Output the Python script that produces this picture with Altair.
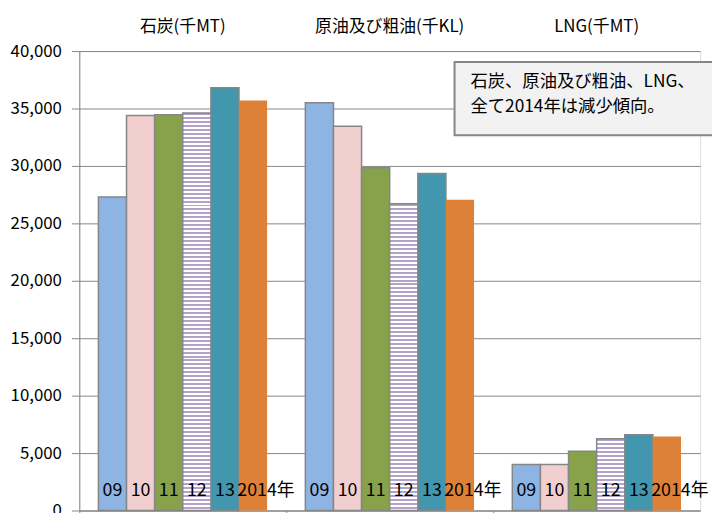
import altair as alt
import pandas as pd

categories = ["石炭(千MT)", "原油及び粗油(千KL)", "LNG(千MT)"]
years = ["09", "10", "11", "12", "13", "2014年"]
coal = [27300, 34400, 34450, 34600, 36800, 35700]
crude = [35500, 33450, 29850, 26700, 29350, 27050]
lng = [4000, 4000, 5150, 6250, 6600, 6450]
note_text = "石炭、原油及び粗油、LNG、\n全て2014年は減少傾向。"
y_ticks = list(range(0, 40001, 5000))

rows = []
for cat, vals in zip(categories, [coal, crude, lng]):
    for yr, v in zip(years, vals):
        rows.append({"cat": cat, "year": yr, "value": v})
df = pd.DataFrame(rows)

W, H = 627, 464
FONT = "Noto Sans CJK JP"
GRAY = "#868686"
LAV = "#B3A2C9"
fill_colors = ["#8EB4E3", "#F2CFCF", "#87A24B", "#D9D0E6", "#4297AF", "#DD8139"]

x_scale = alt.Scale(domain=categories, paddingInner=0, paddingOuter=0)
xo_scale = alt.Scale(domain=years, paddingInner=0, paddingOuter=0.68)
y_scale = alt.Scale(domain=[0, 40000], nice=False)

y_axis = alt.Axis(values=y_ticks, format=",.0f", labelFont=FONT, labelFontSize=17,
                  labelColor="black", tickColor=GRAY, tickSize=8, labelPadding=10,
                  domainColor=GRAY, gridColor=GRAY, gridWidth=1, domainWidth=1)
Y = alt.Y("value:Q", scale=y_scale, title=None, axis=y_axis)
XO = alt.XOffset("year:N", scale=xo_scale)

x_top = alt.X("cat:N", scale=x_scale, title=None,
              axis=alt.Axis(orient="top", labelAngle=0, ticks=False, domain=False,
                            labelFontSize=17, labelFont=FONT, labelPadding=16,
                            labelColor="black"))
x_bottom = alt.X("cat:N", scale=x_scale, title=None,
                 axis=alt.Axis(orient="bottom", labels=False, ticks=True, tickSize=6,
                               bandPosition=0, domain=True, domainColor=GRAY,
                               tickColor=GRAY, grid=False))
x_none = alt.X("cat:N", scale=x_scale, title=None, axis=None)

base = alt.Chart(df)

solid = base.transform_filter(alt.datum.year != "12").mark_bar(
    stroke=GRAY, strokeWidth=1.5
).encode(
    x=x_top, xOffset=XO, y=Y,
    fill=alt.Fill("year:N", scale=alt.Scale(domain=years, range=fill_colors), legend=None),
    strokeOpacity=alt.condition(alt.datum.year == "2014年", alt.value(0), alt.value(1)),
)


def stripes(value):
    h = value / 40000 * H
    n = max(1, round(h / 4))
    stops = []
    for i in range(n):
        stops += [
            {"offset": i / n, "color": LAV},
            {"offset": (i + 0.5) / n, "color": LAV},
            {"offset": (i + 0.5) / n, "color": "#FFFFFF"},
            {"offset": (i + 1) / n, "color": "#FFFFFF"},
        ]
    return {"gradient": "linear", "x1": 0, "y1": 0, "x2": 0, "y2": 1, "stops": stops}


striped_layers = []
for cat, vals in zip(categories, [coal, crude, lng]):
    v12 = vals[years.index("12")]
    striped_layers.append(
        base.transform_filter((alt.datum.year == "12") & (alt.datum.cat == cat))
        .mark_bar(fill=stripes(v12), stroke=GRAY, strokeWidth=1.5)
        .encode(x=x_none, xOffset=XO, y=Y)
    )

labels = base.transform_filter(alt.datum.year != "2014年").mark_text(
    font=FONT, fontSize=18, color="black", baseline="middle"
).encode(x=x_bottom, xOffset=XO, y=alt.value(444), text="year:N")

labels_last = base.transform_filter(alt.datum.year == "2014年").mark_text(
    font=FONT, fontSize=18, color="black", baseline="middle", dx=13
).encode(x=x_none, xOffset=XO, y=alt.value(444), text="year:N")

note_df = pd.DataFrame({"note": [note_text]})
note_box = alt.Chart(note_df).mark_rect(
    fill="#F2F2F2", stroke=GRAY, strokeWidth=2
).encode(x=alt.value(379), x2=alt.value(700), y=alt.value(11), y2=alt.value(85))
note_txt = alt.Chart(note_df).mark_text(
    font=FONT, fontSize=17.5, color="black", align="left", baseline="top",
    lineBreak="\n", lineHeight=26
).encode(x=alt.value(395), y=alt.value(22), text="note:N")

chart = alt.layer(
    solid, *striped_layers, labels, labels_last, note_box, note_txt
).resolve_axis(x="independent").properties(
    width=W, height=H,
    autosize=alt.AutoSizeParams(type="none"),
    padding={"left": 72, "top": 41, "right": 12, "bottom": 0},
).configure_view(stroke=None).configure(background="white")

chart.save("out.html", embed_options={"renderer": "svg", "actions": False})
